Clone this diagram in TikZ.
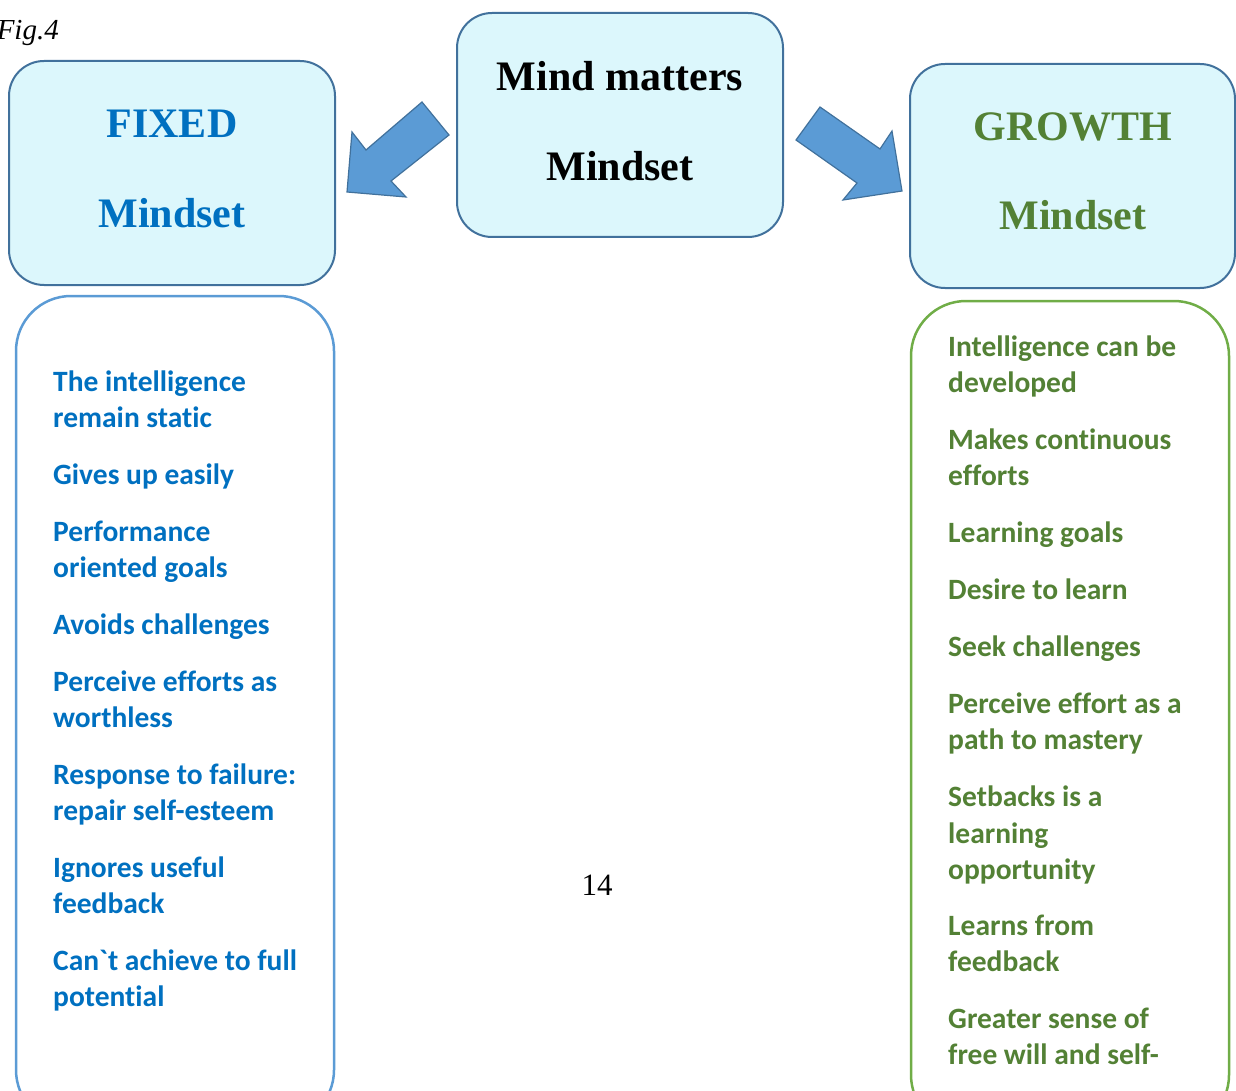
\documentclass[tikz,border=0pt]{standalone}
\usepackage{fontspec}
\setmainfont{Liberation Serif}
\newfontfamily\calibri[Ligatures={TeXOff,NoCommon}]{Carlito}
\usetikzlibrary{positioning}
\usepackage{xcolor}
\definecolor{boxfill}{HTML}{DCF7FC}
\definecolor{boxline}{HTML}{41719C}
\definecolor{arrowfill}{HTML}{5B9BD5}
\definecolor{fixedblue}{HTML}{0070C0}
\definecolor{growthgreen}{HTML}{538135}
\definecolor{growthline}{HTML}{70AD47}

\begin{document}
\begin{tikzpicture}[x=1pt, y=-1pt,
    headbox/.style={draw=boxline, fill=boxfill, line width=2pt, rounded corners=35pt,
        minimum width=326pt, minimum height=224pt, inner sep=0pt},
    listbox/.style={line width=2.5pt, rounded corners=55pt,
        minimum width=318pt, minimum height=829pt, inner sep=0pt},
    titletext/.style={anchor=base, font=\bfseries\fontsize{42}{50}\selectfont},
    fixeditem/.style={anchor=base west, inner sep=0pt, text=fixedblue,
        font=\calibri\bfseries\fontsize{29.5}{36}\selectfont},
    growthitem/.style={fixeditem, text=growthgreen},
    blockarrow/.style={fill=arrowfill, draw=boxline, line width=1.2pt, line join=miter}]
    \useasboundingbox (0,0) rectangle (1236,1091);
    % Caption cut at the left edge
    \node[anchor=base east, inner sep=0pt, font=\itshape\fontsize{29}{34}\selectfont] (figlabel) at (59,40) {Fig.4};
    % Three heading boxes
    \node[headbox] (mind) at (620,125) {};
    \node[titletext] (mindA) at (620,91) {Mind matters};
    \node[titletext] (mindB) at (620,181) {Mindset};
    \node[headbox] (fixed) at (172,173) {};
    \node[titletext, text=fixedblue] (fixedA) at (172,138) {FIXED};
    \node[titletext, text=fixedblue] (fixedB) at (172,228) {Mindset};
    \node[headbox, minimum width=325pt] (growth) at (1072.5,176) {};
    \node[titletext, text=growthgreen] (growthA) at (1073,141) {GROWTH};
    \node[titletext, text=growthgreen] (growthB) at (1073,230) {Mindset};
    % Block arrows
    \draw[blockarrow] (422,102) -- (449,135) -- (391,181) -- (406,197) -- (347,192)
        -- (352,132) -- (366,150) -- cycle;
    \draw[blockarrow] (820,107) -- (880,149) -- (892,131) -- (902,191) -- (843,200)
        -- (857,183) -- (796,140) -- cycle;
    % Lists
    \node[listbox, draw=arrowfill] (fixedlist) at (175,710.5) {};
    \node[listbox, draw=growthline] (growthlist) at (1070,715.5) {};
    \foreach \y/\t [count=\i] in {391/The intelligence, 427/remain static,
        484/Gives up easily, 541/Performance, 577/oriented goals,
        634/Avoids challenges, 691/Perceive efforts as, 727/worthless,
        784/Response to failure:, 820/repair self-esteem, 877/Ignores useful,
        913/feedback, 970/Can`t achieve to full, 1006/potential} {
        \node[fixeditem] (fixed\i) at (53,\y) {\t};
    }
    \foreach \y/\t [count=\i] in {356/Intelligence can be, 392/developed,
        449/Makes continuous, 485/efforts, 542/Learning goals,
        599/Desire to learn, 656/Seek challenges, 713/Perceive effort as a,
        749/path to mastery, 806/Setbacks is a, 843/learning, 879/opportunity,
        935/Learns from, 971/feedback, 1028/Greater sense of,
        1064/free will and self-} {
        \node[growthitem] (growth\i) at (948,\y) {\t};
    }
    % Page number
    \node[anchor=base, inner sep=0pt, font=\fontsize{31}{36}\selectfont] (pagenum) at (597,895) {14};
\end{tikzpicture}
\end{document}
